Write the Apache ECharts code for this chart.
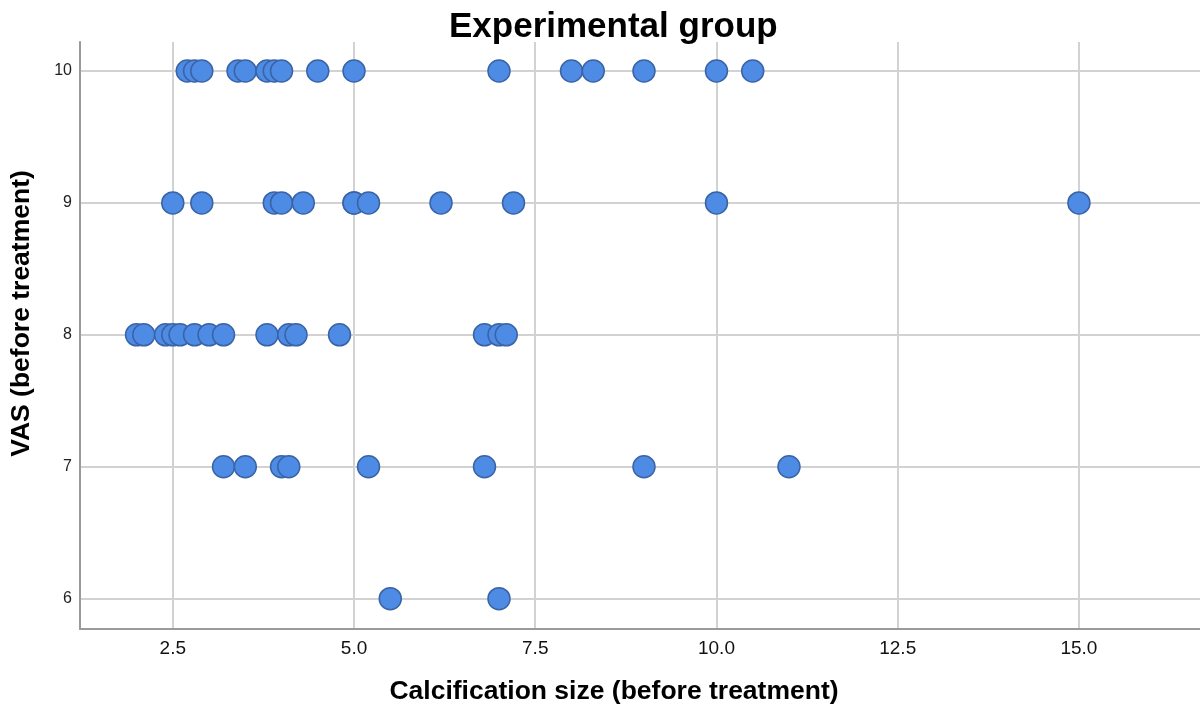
<!DOCTYPE html>
<html>
<head>
<meta charset="utf-8">
<script src="https://cdn.jsdelivr.net/npm/echarts@6/dist/echarts.min.js"></script>
<style>html,body{margin:0;padding:0;background:#fff}#c{width:1200px;height:711px}</style>
</head>
<body>
<div id="c"></div>
<script>
const titleText = 'Experimental group';
const xName = 'Calcification size (before treatment)';
const yName = 'VAS (before treatment)';
const xTicks = [2.5, 5.0, 7.5, 10.0, 12.5, 15.0];
const yTicks = [6, 7, 8, 9, 10];
const vas10 = [2.7, 2.8, 2.9, 3.4, 3.5, 3.8, 3.9, 4.0, 4.5, 5.0, 7.0, 8.0, 8.3, 9.0, 10.0, 10.5];
const vas9 = [2.5, 2.9, 3.9, 4.0, 4.3, 5.0, 5.0, 5.2, 6.2, 7.2, 10.0, 15.0];
const vas8 = [2.0, 2.1, 2.4, 2.5, 2.6, 2.8, 3.0, 3.2, 3.8, 4.1, 4.2, 4.8, 6.8, 7.0, 7.1];
const vas7 = [3.2, 3.5, 4.0, 4.1, 5.2, 6.8, 9.0, 11.0];
const vas6 = [5.5, 7.0];

const rows = [[10, vas10], [9, vas9], [8, vas8], [7, vas7], [6, vas6]];
const points = [];
rows.forEach(([y, xs]) => xs.forEach(x => points.push([x, y])));

const chart = echarts.init(document.getElementById('c'), null, {renderer: 'canvas'});
const font = '"Liberation Sans", Arial, sans-serif';
chart.setOption({
  animation: false,
  backgroundColor: '#ffffff',
  title: {
    text: titleText,
    left: 449,
    top: 10,
    padding: 0,
    textStyle: {fontFamily: font, fontWeight: 'bold', fontSize: 35, color: '#000'}
  },
  grid: {left: 80, right: 0, top: 42, bottom: 82, containLabel: false},
  xAxis: {
    type: 'value',
    min: 1.22,
    max: 16.67,
    name: xName,
    nameLocation: 'middle',
    nameGap: 49,
    nameTextStyle: {fontFamily: font, fontWeight: 'bold', fontSize: 26.5, color: '#000', padding: [0, 52, 0, 0]},
    axisLine: {show: true, onZero: false, lineStyle: {color: '#9a9a9a', width: 2}},
    axisTick: {show: false, customValues: xTicks},
    axisLabel: {customValues: xTicks, fontFamily: font, fontSize: 19, color: '#111', margin: 10,
      formatter: v => v.toFixed(1)},
    splitLine: {show: true, lineStyle: {color: '#d2d2d2', width: 2}}
  },
  yAxis: {
    type: 'value',
    min: 5.77,
    max: 10.22,
    name: yName,
    nameLocation: 'middle',
    nameGap: 45,
    nameRotate: 90,
    nameTextStyle: {fontFamily: font, fontWeight: 'bold', fontSize: 26.5, color: '#000', padding: [0, 0, 0, 44]},
    axisLine: {show: true, onZero: false, lineStyle: {color: '#9a9a9a', width: 2}},
    axisTick: {show: false, customValues: yTicks},
    axisLabel: {customValues: yTicks, fontFamily: font, fontSize: 16, color: '#222', margin: 8},
    splitLine: {show: true, lineStyle: {color: '#d2d2d2', width: 2}}
  },
  series: [{
    type: 'scatter',
    data: points,
    symbol: 'circle',
    symbolSize: 22,
    itemStyle: {color: '#4d8be4', borderColor: '#3a63a6', borderWidth: 1.5, opacity: 1}
  }]
});
</script>
</body>
</html>
